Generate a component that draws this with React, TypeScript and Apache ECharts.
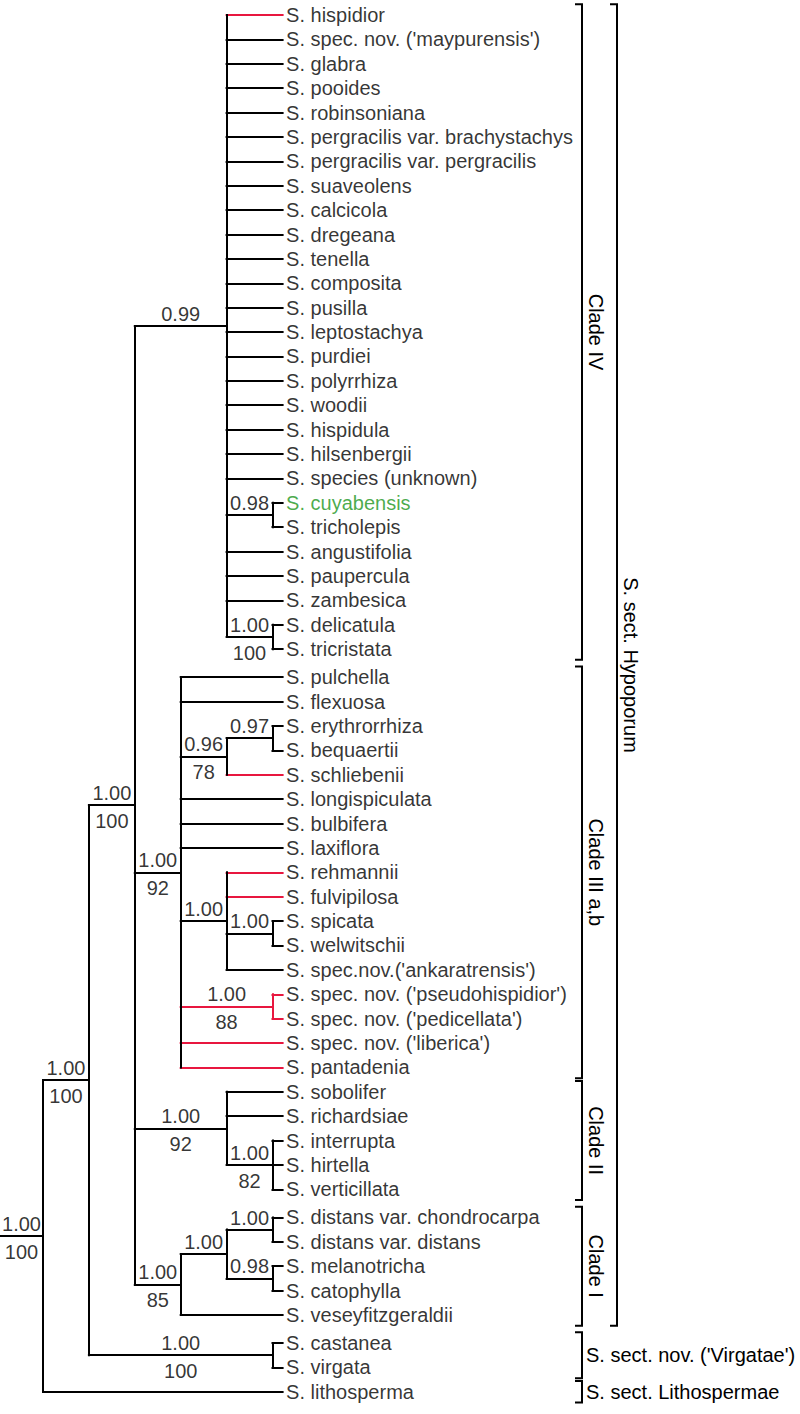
import React, { useEffect, useRef } from "react";
import * as echarts from "echarts";

// ---------- data ----------
const LEAVES: string[] = [
  "S. hispidior",
  "S. spec. nov. ('maypurensis')",
  "S. glabra",
  "S. pooides",
  "S. robinsoniana",
  "S. pergracilis var. brachystachys",
  "S. pergracilis var. pergracilis",
  "S. suaveolens",
  "S. calcicola",
  "S. dregeana",
  "S. tenella",
  "S. composita",
  "S. pusilla",
  "S. leptostachya",
  "S. purdiei",
  "S. polyrrhiza",
  "S. woodii",
  "S. hispidula",
  "S. hilsenbergii",
  "S. species (unknown)",
  "S. cuyabensis",
  "S. tricholepis",
  "S. angustifolia",
  "S. paupercula",
  "S. zambesica",
  "S. delicatula",
  "S. tricristata",
  "S. pulchella",
  "S. flexuosa",
  "S. erythrorrhiza",
  "S. bequaertii",
  "S. schliebenii",
  "S. longispiculata",
  "S. bulbifera",
  "S. laxiflora",
  "S. rehmannii",
  "S. fulvipilosa",
  "S. spicata",
  "S. welwitschii",
  "S. spec.nov.('ankaratrensis')",
  "S. spec. nov. ('pseudohispidior')",
  "S. spec. nov. ('pedicellata')",
  "S. spec. nov. ('liberica')",
  "S. pantadenia",
  "S. sobolifer",
  "S. richardsiae",
  "S. interrupta",
  "S. hirtella",
  "S. verticillata",
  "S. distans var. chondrocarpa",
  "S. distans var. distans",
  "S. melanotricha",
  "S. catophylla",
  "S. veseyfitzgeraldii",
  "S. castanea",
  "S. virgata",
  "S. lithosperma",
];

// Topology in Newick form (leaf = index into LEAVES; node label = posterior/bootstrap)
const CLADE_IV =
  "(0,1,2,3,4,5,6,7,8,9,10,11,12,13,14,15,16,17,18,19,(20,21)0.98,22,23,24,(25,26)1.00/100)0.99";
const CLADE_III =
  "(27,28,((29,30)0.97,31)0.96/78,32,33,34,(35,36,(37,38)1.00,39)1.00,(40,41)1.00/88,42,43)1.00/92";
const CLADE_II = "(44,45,(46,47,48)1.00/82)1.00/92";
const CLADE_I = "(((49,50)1.00,(51,52)0.98)1.00,53)1.00/85";
const TOPOLOGY = `(((${CLADE_IV},${CLADE_III},${CLADE_II},${CLADE_I})1.00/100,(54,55)1.00/100)1.00/100,56)1.00/100;`;

const RED_TAXA: string[] = [
  "S. hispidior",
  "S. schliebenii",
  "S. rehmannii",
  "S. fulvipilosa",
  "S. spec. nov. ('pseudohispidior')",
  "S. spec. nov. ('pedicellata')",
  "S. spec. nov. ('liberica')",
  "S. pantadenia",
];
const GREEN_TAXA: string[] = ["S. cuyabensis"];

// leaf indices after which a small extra gap appears
const GAP_AFTER: number[] = [26, 48, 53];

// [label, first leaf, last leaf, column, rotated]
const BRACKETS: [string, number, number, number, boolean][] = [
  ["Clade IV", 0, 26, 0, true],
  ["Clade III a,b", 27, 43, 0, true],
  ["Clade II", 44, 48, 0, true],
  ["Clade I", 49, 53, 0, true],
  ["S. sect. nov. ('Virgatae')", 54, 55, 0, false],
  ["S. sect. Lithospermae", 56, 56, 0, false],
  ["S. sect. Hypoporum", 0, 53, 1, true],
];

// ---------- layout / style ----------
const W = 800;
const H = 1414;
const LEVEL_PX = 45.9;
const ROW_PX = 24.39;
const ORIGIN_X = 43;
const ORIGIN_Y = 15;
const X_MIN = -ORIGIN_X / LEVEL_PX;
const X_MAX = X_MIN + W / LEVEL_PX;
const Y_MIN = -ORIGIN_Y / ROW_PX;
const Y_MAX = Y_MIN + H / ROW_PX;
const GAP = 0.15;
const MAX_LEVEL = 6;
const TIP_LEVEL = 5.22;
const BRACKET_X = [582, 617];
const BRACKET_PAD = 0.44;
const TICK = 7;
const FONT = "'Liberation Sans', Arial, Helvetica, sans-serif";
const FS = 20;
const BLACK = "#000000";
const RED = "#e8173f";
const GREEN = "#1c961c";

type TNode = {
  children: TNode[];
  leaf?: number;
  post?: string;
  boot?: string;
  x: number;
  y: number;
  h: number;
  red: boolean;
};

function parseNewick(s: string): TNode {
  let i = 0;
  const node = (): TNode => {
    const n: TNode = { children: [], x: 0, y: 0, h: 0, red: false };
    if (s[i] === "(") {
      i++;
      n.children.push(node());
      while (s[i] === ",") {
        i++;
        n.children.push(node());
      }
      i++;
    }
    let tok = "";
    while (i < s.length && !",();".includes(s[i])) tok += s[i++];
    tok = tok.trim();
    if (n.children.length === 0) n.leaf = parseInt(tok, 10);
    else if (tok) {
      const [p, b] = tok.split("/");
      n.post = p;
      n.boot = b;
    }
    return n;
  };
  return node();
}

const rowOf = (i: number) => i + GAP * GAP_AFTER.filter((g) => g < i).length;

function layout(n: TNode) {
  if (n.leaf !== undefined) {
    n.h = 0;
    n.x = TIP_LEVEL;
    n.y = rowOf(n.leaf);
    n.red = RED_TAXA.includes(LEAVES[n.leaf]);
    return;
  }
  n.children.forEach(layout);
  n.h = 1 + Math.max(...n.children.map((c) => c.h));
  n.x = MAX_LEVEL - n.h;
  n.y = (n.children[0].y + n.children[n.children.length - 1].y) / 2;
  n.red = n.children.every((c) => c.red);
}

function buildOption() {
  const root = parseNewick(TOPOLOGY);
  layout(root);

  const edges: any[] = [];
  const posts: any[] = [];
  const boots: any[] = [];
  const walk = (n: TNode, parentX: number) => {
    edges.push({ coords: [[parentX, n.y], [n.x, n.y]], red: n.red });
    if (n.post) posts.push({ value: [(parentX + n.x) / 2, n.y], text: n.post });
    if (n.boot) boots.push({ value: [(parentX + n.x) / 2, n.y], text: n.boot });
    if (n.children.length) {
      const first = n.children[0].y;
      const last = n.children[n.children.length - 1].y;
      edges.push({ coords: [[n.x, first], [n.x, last]], red: n.red });
      n.children.forEach((c) => walk(c, n.x));
    }
  };
  walk(root, X_MIN);

  // draw red first so black verticals sit on top of the junctions
  const edgeData = [...edges.filter((e) => e.red), ...edges.filter((e) => !e.red)].map((e) => ({
    coords: e.coords,
    lineStyle: { color: e.red ? RED : BLACK },
  }));

  const leafData = LEAVES.map((name, i) => ({
    value: [TIP_LEVEL, rowOf(i)],
    name,
    label: { color: GREEN_TAXA.includes(name) ? GREEN : BLACK },
  }));

  const bracketData = BRACKETS.map((b, i) => [0, rowOf(b[1]) - BRACKET_PAD, rowOf(b[2]) + BRACKET_PAD, i]);

  const textStyle = { fontFamily: FONT, fontSize: FS, color: BLACK };

  return {
    animation: false,
    grid: { left: 0, right: 0, top: 0, bottom: 0 },
    xAxis: { type: "value", min: X_MIN, max: X_MAX, show: false },
    yAxis: { type: "value", min: Y_MIN, max: Y_MAX, inverse: true, show: false },
    series: [
      {
        type: "lines",
        coordinateSystem: "cartesian2d",
        silent: true,
        lineStyle: { width: 2, opacity: 1, curveness: 0, cap: "square" },
        data: edgeData,
        z: 2,
      },
      {
        type: "scatter",
        silent: true,
        symbolSize: 0,
        data: leafData,
        label: {
          show: true,
          position: "right",
          distance: 3.5,
          formatter: (p: any) => p.name,
          ...textStyle,
        },
        z: 3,
      },
      {
        type: "scatter",
        silent: true,
        symbolSize: 0,
        data: posts,
        label: {
          show: true,
          position: "inside",
          offset: [0, -12],
          formatter: (p: any) => posts[p.dataIndex].text,
          ...textStyle,
        },
        z: 3,
      },
      {
        type: "scatter",
        silent: true,
        symbolSize: 0,
        data: boots,
        label: {
          show: true,
          position: "inside",
          offset: [0, 16],
          formatter: (p: any) => boots[p.dataIndex].text,
          ...textStyle,
        },
        z: 3,
      },
      {
        type: "custom",
        silent: true,
        data: bracketData,
        renderItem: (_params: any, api: any) => {
          const idx = api.value(3);
          const [label, , , col, rot] = BRACKETS[idx];
          const y1 = api.coord([0, api.value(1)])[1];
          const y2 = api.coord([0, api.value(2)])[1];
          const x = BRACKET_X[col];
          const font = `${FS}px ${FONT}`;
          return {
            type: "group",
            children: [
              {
                type: "polyline",
                shape: { points: [[x - TICK, y1], [x, y1], [x, y2], [x - TICK, y2]] },
                style: { stroke: BLACK, lineWidth: 2, fill: null },
              },
              rot
                ? {
                    type: "text",
                    x: x + 14,
                    y: (y1 + y2) / 2,
                    rotation: -Math.PI / 2,
                    style: { text: label, font, fill: BLACK, align: "center", verticalAlign: "middle" },
                  }
                : {
                    type: "text",
                    x: x + 4,
                    y: (y1 + y2) / 2,
                    style: { text: label, font, fill: BLACK, align: "left", verticalAlign: "middle" },
                  },
            ],
          };
        },
        z: 4,
      },
    ],
  };
}

export default function App() {
  const ref = useRef<HTMLDivElement>(null);
  useEffect(() => {
    document.body.style.margin = "0";
    if (!ref.current) return;
    const chart = echarts.init(ref.current, undefined, { renderer: "svg" });
    chart.setOption(buildOption() as any);
    return () => chart.dispose();
  }, []);
  return <div ref={ref} style={{ width: W, height: H, background: "#fff" }} />;
}
